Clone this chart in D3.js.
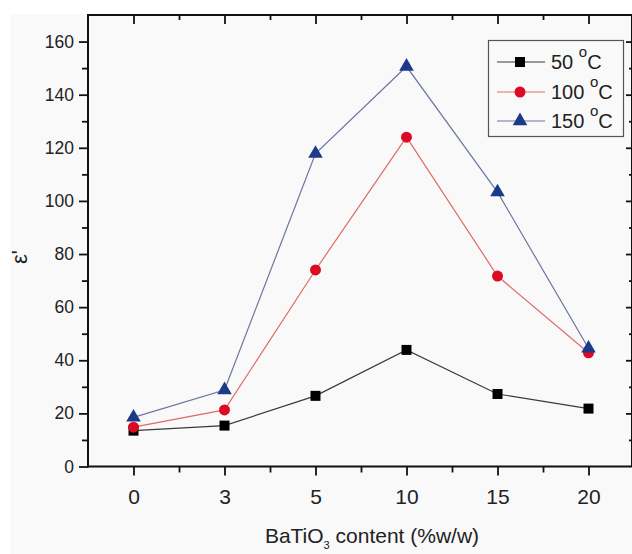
<!DOCTYPE html>
<html>
<head>
<meta charset="utf-8">
<script src="https://cdn.jsdelivr.net/npm/d3@7/dist/d3.min.js"></script>
<style>
  html, body { margin: 0; padding: 0; background: #ffffff; }
  svg { display: block; font-family: "Liberation Sans", Arial, sans-serif; }
</style>
</head>
<body>
<svg id="chart" width="632" height="554"></svg>
<script>
// BaTiO3 loading (% w/w) on the x axis, permittivity at three temperatures
const categories = ["0", "3", "5", "10", "15", "20"];
const series50  = [13.5, 15.4, 26.6, 43.9, 27.3, 21.8];
const series100 = [14.8, 21.3, 74.0, 124.0, 71.7, 42.8];
const series150 = [18.5, 28.8, 117.8, 150.6, 103.3, 44.5];
const seriesNames = ["50", "100", "150"];
const yMajorTicks = [0, 20, 40, 60, 80, 100, 120, 140, 160];
const yMinorTicks = [10, 30, 50, 70, 90, 110, 130, 150];

const svg = d3.select("#chart");

// light grey figure panel
svg.append("rect").attr("x", 10).attr("y", 14).attr("width", 622).attr("height", 540).attr("fill", "#f9f9f9");

const plotLeft = 88, plotRight = 634, plotTop = 15, plotBottom = 466.5;

const x = d3.scalePoint().domain(categories).range([plotLeft, plotRight]).padding(0.5);
const y = d3.scaleLinear().domain([0, 170]).range([plotBottom, plotTop]);
const half = x.step() / 2;
const xMinor = categories.slice(0, -1).map(c => x(c) + half);

const g = svg.append("g");

function styleAxis(sel, width, fontSize) {
  sel.select(".domain").remove();
  sel.selectAll(".tick line").attr("stroke", "#111").attr("stroke-width", width);
  sel.selectAll(".tick text").attr("fill", "#222").style("font-size", (fontSize || 17) + "px")
    .style("font-family", "'Liberation Sans', Arial, sans-serif");
}

// left axis (ticks outside)
g.append("g").attr("transform", `translate(${plotLeft},0)`)
  .call(d3.axisLeft(y).tickValues(yMinorTicks).tickSize(6).tickFormat(""))
  .call(s => styleAxis(s, 1.8));
g.append("g").attr("transform", `translate(${plotLeft},0)`)
  .call(d3.axisLeft(y).tickValues(yMajorTicks).tickSize(9).tickPadding(5))
  .call(s => styleAxis(s, 1.8, 17.5));

// right axis (ticks inside)
g.append("g").attr("transform", `translate(${plotRight - 2},0)`)
  .call(d3.axisRight(y).tickValues(yMinorTicks).tickSize(-3).tickFormat(""))
  .call(s => styleAxis(s, 1.8));
g.append("g").attr("transform", `translate(${plotRight - 2},0)`)
  .call(d3.axisRight(y).tickValues(yMajorTicks.slice(1)).tickSize(-6).tickFormat(""))
  .call(s => styleAxis(s, 1.8));

// bottom axis (ticks outside)
const xMinorScale = d3.scaleIdentity();
g.append("g").attr("transform", `translate(0,${plotBottom})`)
  .call(d3.axisBottom(xMinorScale).tickValues(xMinor).tickSize(6).tickFormat(""))
  .call(s => styleAxis(s, 1.8));
g.append("g").attr("transform", `translate(0,${plotBottom})`)
  .call(d3.axisBottom(x).tickSize(9).tickPadding(14))
  .call(s => styleAxis(s, 1.8, 21));

// top axis (ticks inside)
g.append("g").attr("transform", `translate(0,${plotTop})`)
  .call(d3.axisTop(xMinorScale).tickValues(xMinor).tickSize(-5).tickFormat(""))
  .call(s => styleAxis(s, 1.8));
g.append("g").attr("transform", `translate(0,${plotTop})`)
  .call(d3.axisTop(x).tickSize(-9).tickFormat(""))
  .call(s => styleAxis(s, 1.8));

// frame spines
g.append("line").attr("x1", plotLeft).attr("x2", plotLeft).attr("y1", plotTop - 1).attr("y2", plotBottom + 1)
  .attr("stroke", "#111").attr("stroke-width", 2);
g.append("line").attr("x1", plotLeft - 1).attr("x2", plotRight).attr("y1", plotBottom).attr("y2", plotBottom)
  .attr("stroke", "#111").attr("stroke-width", 2);
g.append("line").attr("x1", plotLeft - 1).attr("x2", plotRight).attr("y1", plotTop).attr("y2", plotTop)
  .attr("stroke", "#111").attr("stroke-width", 2);
g.append("line").attr("x1", plotRight - 2).attr("x2", plotRight - 2).attr("y1", plotTop).attr("y2", plotBottom)
  .attr("stroke", "#111").attr("stroke-width", 2);

// series
const styles = [
  { values: series50,  line: "#3a3a3a", fill: "#000000", symbol: d3.symbolSquare,   size: 100 },
  { values: series100, line: "#e06a6a", fill: "#dd0a25", symbol: d3.symbolCircle,   size: 95 },
  { values: series150, line: "#6a76a0", fill: "#1d3a8a", symbol: d3.symbolTriangle, size: 92 }
];

const lineGen = d3.line().x((d, i) => x(categories[i])).y(d => y(d));

styles.forEach(s => {
  g.append("path").datum(s.values).attr("d", lineGen)
    .attr("fill", "none").attr("stroke", s.line).attr("stroke-width", 1.2);
});
styles.forEach(s => {
  g.selectAll(null).data(s.values).enter().append("path")
    .attr("transform", (d, i) => `translate(${x(categories[i])},${y(d)})`)
    .attr("d", d3.symbol().type(s.symbol).size(s.size))
    .attr("fill", s.fill);
});

// legend
const lg = svg.append("g");
lg.append("rect").attr("x", 488.5).attr("y", 40.5).attr("width", 135).attr("height", 96)
  .attr("fill", "#f9f9f9").attr("stroke", "#555").attr("stroke-width", 1.2);
const rowY = [62, 92, 121];
styles.forEach((s, i) => {
  lg.append("line").attr("x1", 497).attr("x2", 545).attr("y1", rowY[i]).attr("y2", rowY[i])
    .attr("stroke", s.line).attr("stroke-width", 1.2);
  lg.append("path").attr("transform", `translate(520,${rowY[i]})`)
    .attr("d", d3.symbol().type(s.symbol).size(s.size)).attr("fill", s.fill);
  const t = lg.append("text").attr("x", 551).attr("y", rowY[i] + 6.5)
    .attr("fill", "#222").style("font-size", "20px");
  t.append("tspan").text(seriesNames[i] + " ");
  t.append("tspan").attr("dy", -12).style("font-size", "15px").text("o");
  t.append("tspan").attr("dy", 12).text("C");
});

// axis titles
const xt = svg.append("text").attr("x", 372).attr("y", 543).attr("text-anchor", "middle")
  .attr("fill", "#222").style("font-size", "21px");
xt.append("tspan").text("BaTiO");
xt.append("tspan").attr("dy", 6).style("font-size", "11px").text("3");
xt.append("tspan").attr("dy", -6).text(" content (%w/w)");

svg.append("text").attr("transform", "translate(27,257) rotate(-90)")
  .attr("text-anchor", "middle").attr("fill", "#222").style("font-size", "22px").text("ε'");
</script>
</body>
</html>
